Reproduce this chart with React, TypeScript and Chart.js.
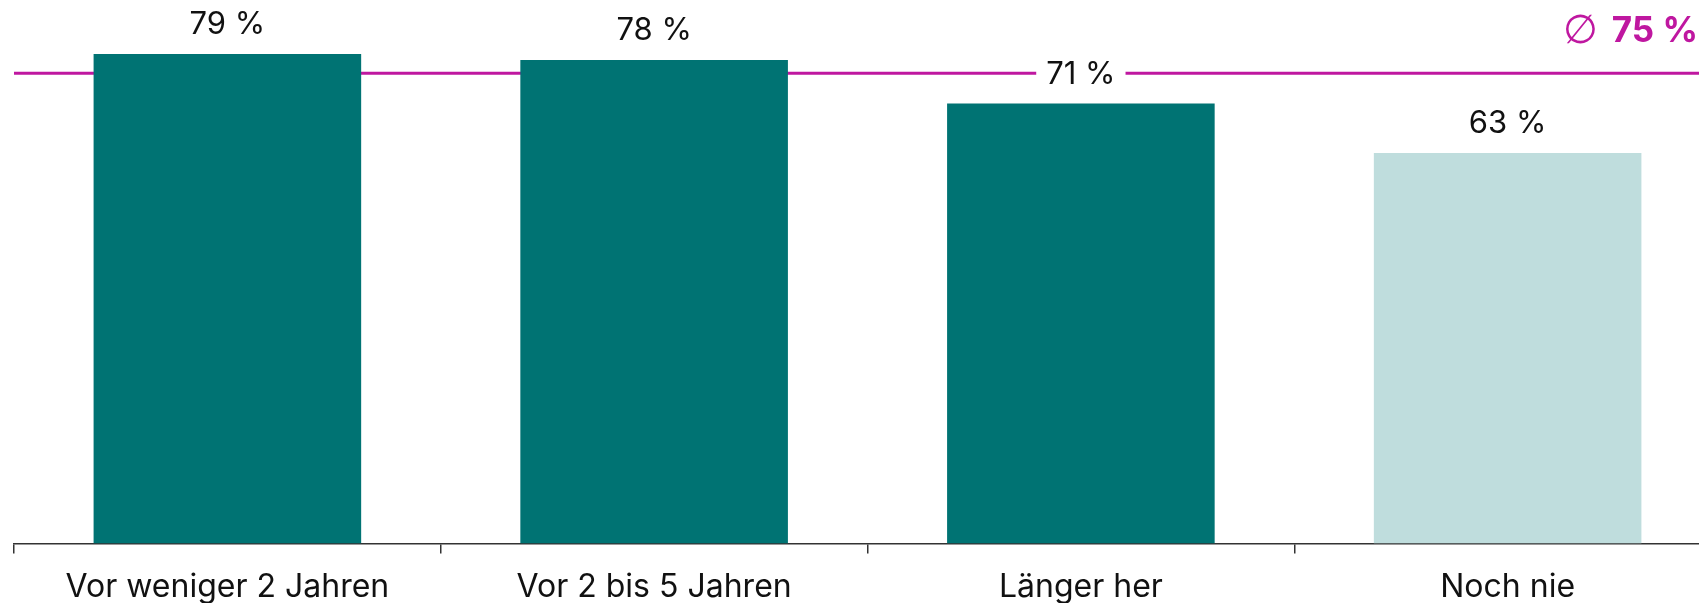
import React, { useEffect, useRef } from "react";
import { Chart, registerables } from "chart.js";

Chart.register(...registerables);

const categories = ["Vor weniger 2 Jahren", "Vor 2 bis 5 Jahren", "Länger her", "Noch nie"];
const values = [79, 78, 71, 63];
const valueLabels = ["79 %", "78 %", "71 %", "63 %"];
const averageValue = 75.9;
const averageLabel = "75 %";

const TEAL = "#007373";
const LIGHT = "#BFDDDD";
const MAGENTA = "#BF17A0";
const FONT = "Inter, 'Noto Sans', sans-serif";

const barColors = [TEAL, TEAL, TEAL, LIGHT];

export default function App() {
  const ref = useRef<HTMLCanvasElement | null>(null);

  useEffect(() => {
    const canvas = ref.current;
    if (!canvas) return;

    const overlay = {
      id: "overlay",
      beforeDatasetsDraw(chart: any) {
        const { ctx, chartArea, scales } = chart;
        const y = scales.y.getPixelForValue(averageValue);
        ctx.save();
        ctx.strokeStyle = MAGENTA;
        ctx.lineWidth = 3;
        ctx.beginPath();
        ctx.moveTo(chartArea.left, y);
        ctx.lineTo(chart.width, y);
        ctx.stroke();
        ctx.restore();
      },
      afterDatasetsDraw(chart: any) {
        const { ctx, scales } = chart;
        const meta = chart.getDatasetMeta(0);
        ctx.save();
        ctx.font = `400 31px ${FONT}`;
        ctx.textAlign = "center";
        ctx.textBaseline = "alphabetic";
        meta.data.forEach((bar: any, i: number) => {
          const x = bar.x;
          const baseY = bar.y - 20;
          const w = ctx.measureText(valueLabels[i]).width;
          ctx.fillStyle = "#ffffff";
          ctx.fillRect(x - w / 2 - 10, baseY - 26, w + 20, 32);
          ctx.fillStyle = "#111111";
          ctx.fillText(valueLabels[i], x, baseY);
        });
        // average label
        const yAvg = scales.y.getPixelForValue(averageValue);
        ctx.textAlign = "right";
        ctx.fillStyle = MAGENTA;
        ctx.font = `700 35px ${FONT}`;
        const rightX = 1698;
        const numW = ctx.measureText(averageLabel).width;
        ctx.fillText(averageLabel, rightX, yAvg - 31);
        ctx.font = `400 40px 'DejaVu Sans', ${FONT}`;
        ctx.fillText("\u2205", rightX - numW - 14, yAvg - 30);
        ctx.restore();
      },
    };

    const chart = new Chart(canvas, {
      type: "bar",
      data: {
        labels: categories,
        datasets: [
          {
            data: values,
            backgroundColor: barColors,
            borderWidth: 0,
            barPercentage: 0.627,
            categoryPercentage: 1,
          },
        ],
      },
      options: {
        responsive: false,
        animation: false,
        devicePixelRatio: 1,
        layout: { padding: { left: 14, right: 2, top: 0, bottom: 18 } },
        plugins: {
          legend: { display: false },
          tooltip: { enabled: false },
          title: { display: false },
        },
        scales: {
          x: {
            offset: true,
            grid: {
              display: true,
              drawOnChartArea: false,
              drawTicks: true,
              tickLength: 10,
              color: "#333333",
              lineWidth: 1.5,
              offset: true,
            },
            border: { display: true, color: "#333333", width: 1.5 },
            ticks: {
              color: "#111111",
              padding: 15,
              font: { family: FONT, size: 32, weight: "400", lineHeight: 1.2 },
              maxRotation: 0,
              autoSkip: false,
            },
          },
          y: {
            display: false,
            min: 0,
            max: 87.7,
          },
        },
      },
      plugins: [overlay],
    });

    return () => chart.destroy();
  }, []);

  return (
    <div
      style={{
        position: "fixed",
        left: 0,
        top: 0,
        width: 1699,
        height: 603,
        overflow: "hidden",
        background: "#ffffff",
      }}
    >
      <canvas ref={ref} width={1723} height={640} style={{ display: "block", width: 1723, height: 640 }} />
    </div>
  );
}
